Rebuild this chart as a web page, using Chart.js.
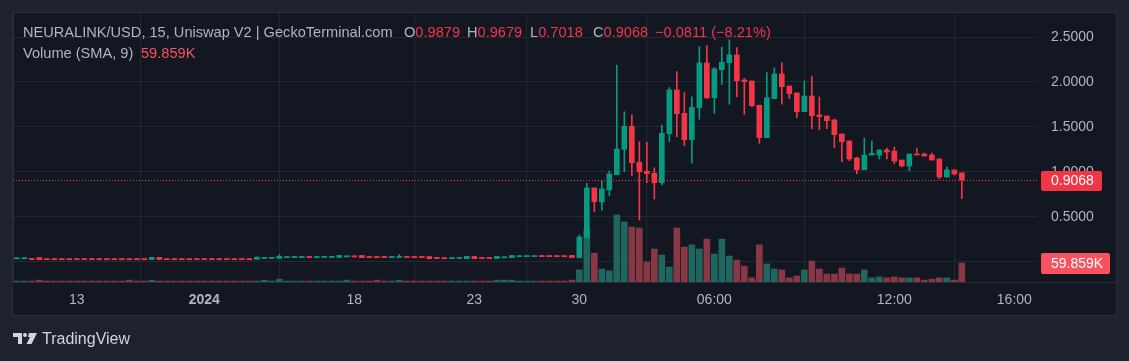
<!DOCTYPE html>
<html>
<head>
<meta charset="utf-8">
<script src="https://cdn.jsdelivr.net/npm/chart.js@4.4.1/dist/chart.umd.min.js"></script>
<style>
html, body { margin: 0; padding: 0; background: #1e222d; }
#wrap { position: relative; width: 1129px; height: 361px; overflow: hidden; }
#chart { position: absolute; left: 0; top: 0; }
.lg { position: absolute; font: 14.6px "Liberation Sans", Arial, sans-serif; line-height: 14px; color: #b2b5be; white-space: pre; }
.up { color: #f23645; }
.vol { color: #f7525f; }
#tv { position: absolute; left: 42px; top: 331px; font: 16px "Liberation Sans", Arial, sans-serif; line-height: 16px; color: #d1d4dc; }
#logo { position: absolute; left: 13px; top: 333px; }
</style>
</head>
<body>
<div id="wrap">
  <canvas id="chart" width="1129" height="361"></canvas>
  <span class="lg" style="left:23px;top:25px">NEURALINK/USD, 15, Uniswap V2 | GeckoTerminal.com</span>
  <span class="lg" style="left:404px;top:25px">O<span class="up">0.9879</span></span>
  <span class="lg" style="left:467px;top:25px">H<span class="up">0.9679</span></span>
  <span class="lg" style="left:530px;top:25px">L<span class="up">0.7018</span></span>
  <span class="lg" style="left:593px;top:25px">C<span class="up">0.9068</span></span>
  <span class="lg up" style="left:655px;top:25px">−0.0811 (−8.21%)</span>
  <span class="lg" style="left:23px;top:46px">Volume (SMA, 9)</span>
  <span class="lg vol" style="left:141px;top:46px">59.859K</span>
  <svg id="logo" width="24" height="11" viewBox="0 0 24 11">
    <path d="M0 0H9V11H5V4H0Z" fill="#d1d4dc"/>
    <circle cx="12" cy="2" r="2" fill="#d1d4dc"/>
    <path d="M16 0H24L18.5 11H13.5L17 4H15Z" fill="#d1d4dc"/>
  </svg>
  <span id="tv">TradingView</span>
</div>
<script>
// valores (índice de barra, 15 min)
const openP = [
  .031,.031,.036,.045,.033,.033,.033,.033,.033,.033,
  .033,.033,.033,.033,.033,.033,.033,.033,.024,.048,
  .033,.033,.033,.033,.033,.033,.033,.033,.033,.033,
  .033,.033,.026,.034,.036,.036,.044,.045,.045,.057,
  .045,.046,.046,.045,.052,.064,.068,.058,.057,.057,
  .045,.046,.058,.057,.057,.056,.046,.044,.033,.035,
  .034,.057,.046,.046,.034,.042,.044,.054,.055,.055,
  .067,.067,.066,.066,.069,
  0.043,0.268,0.820,0.664,0.798,0.968,1.251,1.507,1.106,1.006,
  0.983,0.879,1.424,1.911,1.651,1.357,1.714,2.212,1.825,2.137,
  2.215,2.301,2.022,2.011,1.741,1.380,1.814,2.089,1.955,1.878,
  1.669,1.844,1.633,1.621,1.577,1.421,1.343,1.154,1.023,1.187,
  1.187,1.243,1.231,1.131,1.065,1.198,1.198,1.187,1.143,0.942,
  1.020,0.9879
];
const closeP = [
  .043,.043,.024,.021,.021,.021,.021,.021,.021,.021,
  .021,.021,.021,.021,.021,.021,.021,.021,.048,.024,
  .021,.021,.021,.021,.021,.021,.021,.021,.021,.021,
  .021,.021,.050,.046,.048,.060,.056,.057,.057,.045,
  .057,.058,.058,.069,.064,.052,.044,.046,.045,.045,
  .057,.058,.046,.045,.045,.032,.034,.032,.045,.047,
  .058,.033,.034,.034,.058,.054,.068,.066,.067,.067,
  .055,.055,.054,.054,.045,
  0.274,0.820,0.667,0.809,0.976,1.254,1.507,1.101,1.001,0.979,
  0.879,1.429,1.911,1.647,1.357,1.718,2.212,1.822,2.145,2.219,
  2.301,2.014,2.003,1.736,1.380,1.825,2.089,1.948,1.870,1.669,
  1.844,1.625,1.614,1.569,1.413,1.335,1.143,1.023,1.187,1.206,
  1.243,1.220,1.120,1.065,1.198,1.187,1.176,1.131,0.942,1.020,
  0.975,0.9068
];
const highP = [
  .043,.043,.036,.045,.033,.033,.033,.033,.033,.033,
  .033,.033,.033,.033,.033,.033,.033,.033,.048,.048,
  .033,.033,.033,.033,.033,.033,.033,.033,.033,.033,
  .033,.033,.050,.046,.048,.075,.056,.057,.057,.057,
  .057,.058,.058,.069,.064,.064,.068,.058,.057,.057,
  .057,.078,.058,.057,.057,.056,.046,.044,.045,.047,
  .058,.057,.046,.046,.058,.054,.068,.066,.067,.067,
  .067,.067,.066,.066,.069,
  0.296,0.872,0.820,0.900,1.009,2.189,1.669,1.633,1.335,1.328,
  1.046,1.521,1.937,2.115,1.881,1.836,2.393,2.404,2.160,2.386,
  2.468,2.382,2.041,2.011,1.741,2.104,2.159,2.212,1.955,1.878,
  2.011,2.067,1.833,1.621,1.588,1.421,1.343,1.165,1.376,1.343,
  1.243,1.265,1.276,1.131,1.198,1.265,1.209,1.209,1.143,1.053,
  1.020,0.9879
];
const lowP = [
  .031,.031,.024,.021,.021,.021,.021,.021,.021,.021,
  .021,.021,.021,.021,.021,.021,.021,.021,.024,.024,
  .021,.021,.021,.021,.021,.021,.021,.021,.021,.021,
  .021,.021,.026,.034,.036,.036,.044,.045,.045,.045,
  .045,.046,.046,.045,.052,.052,.044,.046,.045,.045,
  .045,.046,.046,.045,.045,.032,.034,.032,.033,.035,
  .034,.033,.034,.034,.034,.042,.044,.054,.055,.055,
  .055,.055,.054,.054,.045,
  0.043,0.268,0.556,0.574,0.734,0.968,1.001,0.957,0.463,0.879,
  0.697,0.853,1.335,1.391,1.291,1.095,1.585,1.818,1.651,1.974,
  1.752,1.836,1.640,1.725,1.317,1.380,1.814,1.752,1.814,1.602,
  1.669,1.480,1.469,1.480,1.268,1.112,1.124,0.979,1.023,1.187,
  1.143,1.143,1.090,1.053,1.012,1.187,1.176,1.131,0.923,0.942,
  0.964,0.7018
];
// volume em milhares (K)
const volumeK = [
  3,3,3,6,3,3,3,3,3,3, 3,3,3,3,3,6,3,3,6,3,
  3,3,3,3,3,3,3,3,3,3, 3,3,3,6,3,9,3,3,3,3,
  3,3,3,3,6,3,3,3,6,3, 3,6,3,3,3,3,3,3,3,3,
  3,3,3,3,6,6,6,3,3,3, 3,3,3,3,6,
  38,167,91,41,35,211,189,173,170,63,
  104,85,47,170,110,117,104,135,88,135,
  82,69,50,13,117,57,41,38,13,19,
  38,66,41,25,25,44,25,25,38,13,
  16,13,16,13,13,13,6,9,13,13,
  6,59.859
];
const timeTickIdx = [8, 25, 45, 61, 75, 93, 117, 133];
const timeTickLabels = ['13', '2024', '18', '23', '30', '06:00', '12:00', '16:00'];
const priceTicks = [0, 0.5, 1.0, 1.5, 2.0, 2.5];
const lastPrice = 0.9068;
const lastVolume = '59.859K';

const UP = '#089981', DOWN = '#f23645';
const VUP = '#1f665e', VDOWN = '#873844';
const FONT = '"Liberation Sans", Arial, sans-serif';

const isUp = i => closeP[i] >= openP[i];
const bodies = openP.map((o, i) => ({ x: i, y: [o, closeP[i]] }));
const wicks = lowP.map((l, i) => ({ x: i, y: [l, highP[i]] }));
const vols = volumeK.map((v, i) => ({ x: i, y: v }));

// sem margem extra das etiquetas
function noPad(s) {
    s.paddingTop = 0; s.paddingBottom = 0;
    s.paddingLeft = 0; s.paddingRight = 0;
}

const tvFrame = {
    id: 'tvFrame',
    beforeDraw(chart) {
        const c = chart.ctx;
        c.save();
        c.fillStyle = '#1e222d';
        c.fillRect(0, 0, chart.width, chart.height);
        c.fillStyle = '#131722';
        c.fillRect(13, 13, 1103, 302);
        c.restore();
    },
    afterDraw(chart) {
        const c = chart.ctx, a = chart.chartArea;
        const y = chart.scales.y;
        c.save();
        // linha do último preço
        const py = Math.round(y.getPixelForValue(lastPrice)) + 0.5;
        c.strokeStyle = DOWN;
        c.lineWidth = 1;
        c.setLineDash([1, 2]);
        c.beginPath();
        c.moveTo(a.left, py);
        c.lineTo(a.right, py);
        c.stroke();
        c.setLineDash([]);
        // separador do eixo de tempo
        c.strokeStyle = '#2a2e39';
        c.beginPath();
        c.moveTo(13, 282.5);
        c.lineTo(1116, 282.5);
        c.stroke();
        // moldura
        c.strokeRect(12.5, 12.5, 1104, 303);
        // etiquetas
        c.font = '14px ' + FONT;
        c.textBaseline = 'middle';
        c.fillStyle = DOWN;
        c.beginPath();
        c.roundRect(1041, py - 9.5, 61, 20, 2);
        c.fill();
        c.fillStyle = '#ffffff';
        c.fillText(lastPrice.toFixed(4), 1051, py + 0.5);
        c.fillStyle = '#f7525f';
        c.beginPath();
        c.roundRect(1041, 253, 69, 21, 2);
        c.fill();
        c.fillStyle = '#ffffff';
        c.fillText(lastVolume, 1051, 264);
        c.restore();
    }
};

new Chart(document.getElementById('chart'), {
    type: 'bar',
    data: {
        datasets: [
            {
                data: vols, yAxisID: 'yv', order: 3, grouped: false,
                barThickness: 6,
                backgroundColor: ctx => isUp(ctx.dataIndex) ? VUP : VDOWN
            },
            {
                data: wicks, yAxisID: 'y', order: 2, grouped: false,
                barThickness: 1,
                backgroundColor: ctx => isUp(ctx.dataIndex) ? UP : DOWN
            },
            {
                data: bodies, yAxisID: 'y', order: 1, grouped: false,
                barThickness: 5, minBarLength: 1,
                backgroundColor: ctx => isUp(ctx.dataIndex) ? UP : DOWN
            }
        ]
    },
    options: {
        responsive: false,
        animation: false,
        events: [],
        layout: { autoPadding: false, padding: { left: 13, top: 13, right: 13, bottom: 46 } },
        plugins: { legend: { display: false }, tooltip: { enabled: false } },
        scales: {
            x: {
                type: 'linear',
                min: -0.51,
                max: 136.02,
                offset: false,
                afterFit: s => { s.height = 33; noPad(s); },
                afterBuildTicks: s => { s.ticks = timeTickIdx.map(v => ({ value: v })); },
                grid: { color: '#232732', drawTicks: false },
                border: { display: false },
                ticks: {
                    autoSkip: false,
                    maxRotation: 0,
                    padding: 10,
                    color: '#b2b5be',
                    font: ctx => ({ family: FONT, size: 14, weight: (ctx.tick && ctx.tick.value === 25) ? 'bold' : 'normal' }),
                    callback: v => timeTickLabels[timeTickIdx.indexOf(v)]
                }
            },
            y: {
                position: 'right',
                min: -0.227,
                max: 2.768,
                afterFit: s => { s.width = 79; noPad(s); },
                afterBuildTicks: s => { s.ticks = priceTicks.map(v => ({ value: v })); },
                grid: { color: '#232732', drawTicks: false },
                border: { display: false },
                ticks: {
                    padding: 14,
                    color: '#b2b5be',
                    font: { family: FONT, size: 14 },
                    callback: v => v === 0 ? '' : v.toFixed(4)
                }
            },
            yv: {
                display: false,
                min: 0,
                max: 847
            }
        }
    },
    plugins: [tvFrame]
});
</script>
</body>
</html>
